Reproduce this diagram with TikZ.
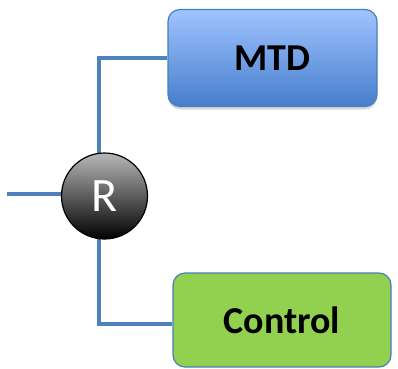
\documentclass[tikz,border=0pt]{standalone}
\usepackage{fontspec}
\setmainfont{Carlito}
\usetikzlibrary{shadows}
\definecolor{lineblue}{RGB}{79,129,189}
\definecolor{mtdtop}{RGB}{160,196,255}
\definecolor{mtdbot}{RGB}{70,125,205}
\definecolor{ctrlgreen}{RGB}{146,208,80}
\definecolor{boxborder}{RGB}{74,126,187}
\tikzset{
  conn/.style={draw=lineblue, line width=4pt, line join=miter},
  boxnode/.style={draw=boxborder, line width=1.2pt, rounded corners=12pt, inner sep=0pt,
    font=\bfseries\fontsize{38}{40}\selectfont, text=black},
  rnode/.style={circle, draw=black, line width=1.2pt, minimum size=86pt, inner sep=0pt,
    top color=white!72!black, bottom color=black, text=white, font=\fontsize{48}{50}\selectfont}
}
\begin{document}
\begin{tikzpicture}[x=1pt,y=-1pt]
\useasboundingbox (0,0) rectangle (398,368);
\coordinate (in) at (7,194);
\coordinate (bot) at (99,324);
\draw[conn] (in) -- (61,194);
\node[boxnode, top color=mtdtop, bottom color=mtdbot, minimum width=209pt, minimum height=97pt,
  drop shadow={shadow xshift=0pt, shadow yshift=-3pt, opacity=0.3}] (mtd) at (272.5,58) {MTD};
\node[boxnode, fill=ctrlgreen, minimum width=218pt, minimum height=94pt] (ctrl) at (282,320) {Control};
\coordinate (top) at (bot |- mtd.west);
\draw[conn] (mtd.west) -- (top) -- (bot) -- (ctrl.west |- bot);
\node[rnode] (r) at (104.5,196) {R};
\end{tikzpicture}
\end{document}
